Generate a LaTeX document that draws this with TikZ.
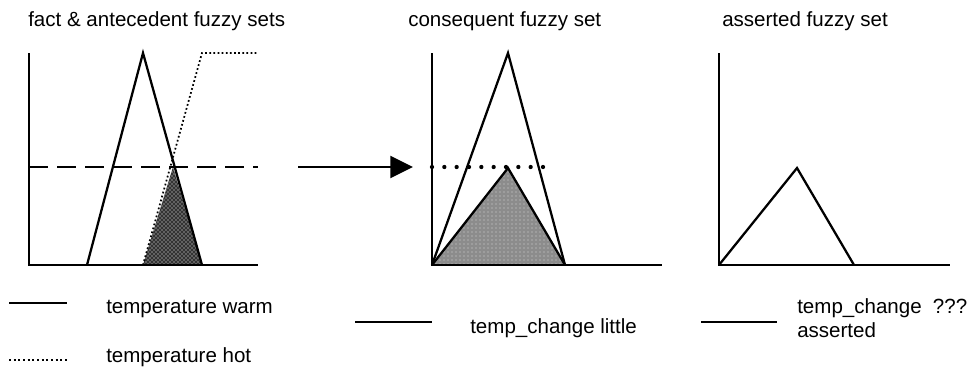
\documentclass[tikz,border=0pt]{standalone}
\usepackage{fontspec}
\setmainfont{Liberation Sans}
\usetikzlibrary{arrows.meta,patterns}
\begin{document}
\begin{tikzpicture}[x=0.75pt,y=-0.75pt,
  axis/.style={line width=1.4pt},
  curve/.style={line width=1.7pt,line join=miter},
  lbl/.style={anchor=base west,inner sep=0pt,font=\fontsize{15.4}{18}\selectfont},
  legline/.style={line width=2pt},
  finedots/.style={line width=1.3pt,dash pattern=on 1.3pt off 1.8pt},
  bigdots/.style={line width=3.2pt,line cap=round,dash pattern=on 0pt off 9.25pt},
  dashline/.style={line width=1.6pt,dash pattern=on 14pt off 7pt}]
\useasboundingbox (0,0) rectangle (977,368);

% titles
\node[lbl] (t1) at (28,26) {fact \& antecedent fuzzy sets};
\node[lbl] (t2) at (408,26) {consequent fuzzy set};
\node[lbl] (t3) at (722,26) {asserted fuzzy set};

% ---------- panel 1 ----------
\fill[black!80] (143,265) -- (173,167) -- (202,265) -- cycle;
\fill[pattern=crosshatch dots,pattern color=white] (143,265) -- (173,167) -- (202,265) -- cycle;
\draw[dashline] (29,167) -- (258,167);
\draw[axis] (29,53) -- (29,265) -- (258,265);
\draw[curve] (87,265) -- (143,53) -- (202,265);
\draw[finedots] (143,265) -- (202,53) -- (258,53);

% arrow
\coordinate (arrS) at (298,167);
\coordinate (arrE) at (413,167);
\draw[line width=1.6pt,-{Triangle[length=17pt,width=16.5pt]}] (arrS) -- (arrE);

% ---------- panel 2 ----------
\fill[black!45] (432,265) -- (508,168) -- (565,265) -- cycle;
\fill[pattern=dots,pattern color=white!85!black] (432,265) -- (508,168) -- (565,265) -- cycle;
\draw[curve] (432,265) -- (508,168) -- (565,265);
\draw[axis] (432,53) -- (432,265) -- (662,265);
\draw[curve] (432,265) -- (508,53) -- (565,265);
\draw[bigdots] (432,167) -- (544,167);

% ---------- panel 3 ----------
\draw[axis] (719,53) -- (719,265) -- (950,265);
\draw[curve] (719,265) -- (797,168) -- (854,265);

% ---------- legend ----------
\draw[legline] (9,303) -- (67,303);
\node[lbl] (l1) at (106,313) {temperature warm};
\draw[line width=1.4pt,dash pattern=on 1.4pt off 2.1pt] (9,360) -- (67,360);
\node[lbl] (l2) at (106,362) {temperature hot};
\draw[legline] (355,322) -- (432,322);
\node[lbl] (l3) at (470,333) {temp\_change little};
\draw[legline] (701,322) -- (777,322);
\node[lbl] (l4) at (797,313) {temp\_change\hspace{0.55em}???};
\node[lbl] (l5) at (797,337) {asserted};
\end{tikzpicture}
\end{document}
